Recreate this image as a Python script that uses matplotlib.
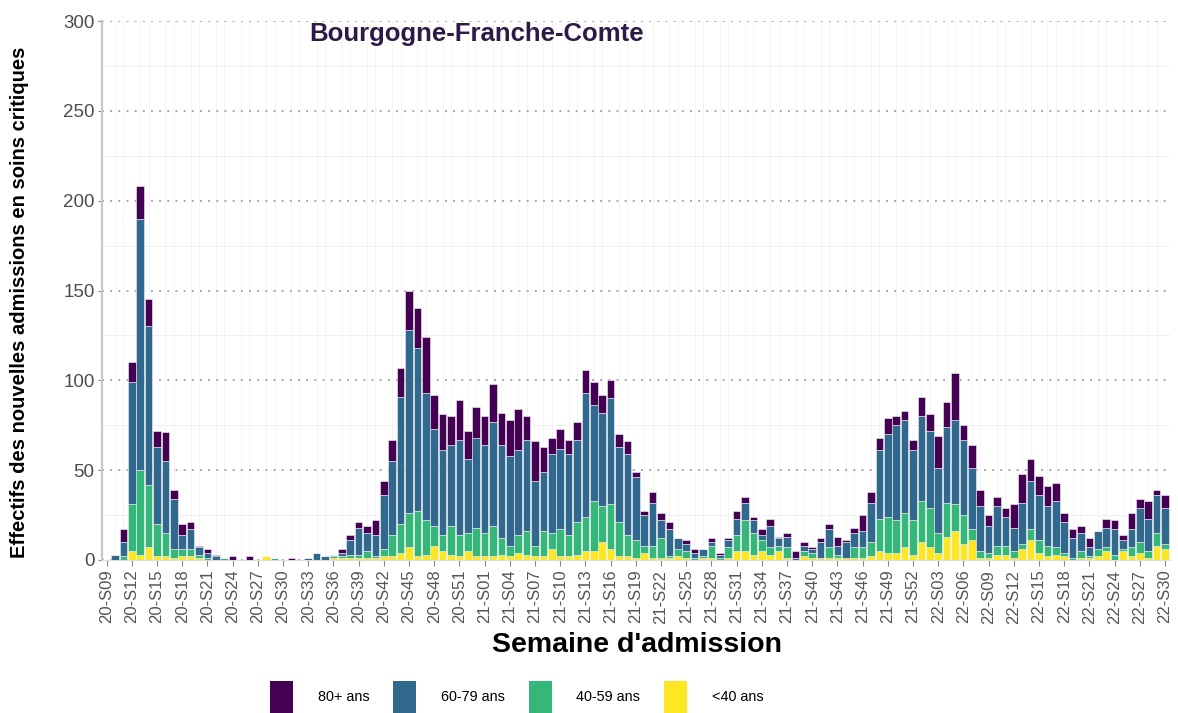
import numpy as np
import matplotlib
matplotlib.use("Agg")
import matplotlib.pyplot as plt

plt.rcParams['font.family'] = ['Liberation Sans', 'DejaVu Sans']

# week labels: 2020 S09-S53, 2021 S01-S52, 2022 S01-S30
weeks = ([f"20-S{w:02d}" for w in range(9, 54)]
         + [f"21-S{w:02d}" for w in range(1, 53)]
         + [f"22-S{w:02d}" for w in range(1, 31)])

age_groups = ['80+ ans', '60-79 ans', '40-59 ans', '<40 ans']
colors = ['#440154', '#31688E', '#35B779', '#FDE725']

# admissions per week, by age group
ans_80plus = [
    0, 0, 7, 11, 18, 15, 9, 16, 5, 6, 4, 1, 2, 1, 0, 2, 0, 2, 0, 0,
    0, 0, 1, 0, 0, 0, 0, 0, 2, 3, 3, 4, 8, 8, 12, 16, 22, 22, 31, 19,
    20, 16, 22, 16, 17, 16, 21, 18, 20, 23, 13, 22, 14, 9, 11, 8, 10, 13, 13, 10,
    10, 7, 7, 3, 2, 6, 4, 4, 0, 2, 2, 0, 2, 1, 1, 4, 3, 2, 3, 4,
    1, 2, 4, 2, 1, 2, 3, 5, 1, 3, 9, 6, 7, 9, 5, 5, 6, 11, 9, 18,
    14, 26, 8, 13, 9, 6, 5, 5, 13, 16, 12, 11, 11, 10, 5, 5, 4, 5, 0, 5,
    5, 3, 9, 5, 10, 3, 7]
ans_60_79 = [
    0, 3, 8, 68, 140, 88, 43, 40, 28, 8, 11, 4, 3, 2, 0, 0, 0, 0, 0, 0,
    0, 0, 0, 0, 1, 4, 2, 1, 2, 8, 15, 10, 12, 30, 41, 71, 102, 91, 71, 54,
    47, 45, 53, 41, 50, 49, 58, 52, 50, 47, 51, 36, 33, 44, 45, 45, 46, 69, 53, 52,
    59, 42, 45, 35, 17, 24, 10, 15, 6, 4, 3, 4, 2, 2, 4, 9, 10, 7, 3, 12,
    4, 6, 1, 3, 2, 9, 10, 5, 9, 8, 9, 22, 38, 46, 53, 52, 39, 47, 43, 36,
    42, 47, 42, 34, 25, 15, 22, 16, 13, 23, 27, 25, 22, 26, 17, 11, 10, 5, 10, 11,
    14, 5, 10, 19, 18, 21, 20]
ans_40_59 = [
    0, 0, 2, 26, 47, 35, 18, 13, 5, 4, 4, 2, 1, 0, 1, 0, 0, 0, 0, 0,
    1, 0, 0, 0, 0, 0, 0, 1, 1, 2, 2, 4, 1, 4, 12, 16, 19, 25, 19, 11,
    9, 16, 12, 10, 16, 13, 17, 9, 6, 10, 13, 6, 14, 9, 15, 12, 18, 19, 28, 20,
    25, 19, 12, 10, 4, 7, 11, 1, 4, 4, 1, 1, 7, 1, 6, 9, 17, 12, 6, 4,
    3, 6, 0, 3, 3, 0, 6, 2, 0, 6, 6, 8, 18, 20, 18, 19, 19, 23, 22, 11,
    19, 15, 16, 6, 4, 3, 5, 5, 4, 3, 6, 7, 6, 4, 2, 1, 4, 1, 4, 2,
    3, 1, 5, 6, 4, 7, 3]
ans_moins40 = [
    0, 0, 0, 5, 3, 7, 2, 2, 1, 2, 2, 1, 0, 0, 0, 0, 0, 0, 0, 2,
    0, 0, 0, 0, 0, 0, 0, 1, 1, 1, 1, 1, 1, 2, 2, 4, 7, 2, 3, 8,
    5, 3, 2, 5, 2, 2, 2, 3, 2, 4, 3, 2, 2, 6, 2, 2, 3, 5, 5, 10,
    6, 2, 2, 1, 4, 1, 1, 1, 2, 1, 0, 1, 1, 0, 1, 5, 5, 3, 5, 3,
    5, 1, 0, 2, 1, 1, 1, 1, 1, 1, 1, 2, 5, 4, 4, 7, 3, 10, 7, 4,
    13, 16, 9, 11, 1, 1, 3, 3, 1, 6, 11, 4, 2, 3, 2, 0, 1, 1, 2, 5,
    0, 5, 2, 4, 1, 8, 6]

series = [ans_80plus, ans_60_79, ans_40_59, ans_moins40]

W, H = 1178, 713
fig = plt.figure(figsize=(W / 100, H / 100), dpi=100)
ax = fig.add_axes([101.5 / W, 1 - 560 / H, (1170 - 101.5) / W, (560 - 21) / H])

x = np.arange(len(weeks))
bottom = np.zeros(len(weeks))
handles = {}
# stack from youngest (bottom) to oldest (top)
for name, vals, col in reversed(list(zip(age_groups, series, colors))):
    vals = np.array(vals, dtype=float)
    b = ax.bar(x, vals, bottom=bottom, width=0.9, color=col,
               edgecolor='#F4F4F4', linewidth=0.4, zorder=3)
    handles[name] = b
    bottom += vals

ax.set_xlim(-0.6, len(weeks) - 0.4)
ax.set_ylim(0, 300)

# grid
ax.set_yticks(range(0, 301, 50))
ax.set_yticks(range(25, 300, 50), minor=True)
ax.yaxis.grid(True, which='major', color='#A8A8A8', linestyle=(0, (1, 3.2)), linewidth=1.4, zorder=0)
ax.yaxis.grid(True, which='minor', color='#EEEEEE', linewidth=0.6, zorder=0)
ax.set_xticks(x, minor=True)
ax.xaxis.grid(True, which='minor', color='#F2F2F2', linewidth=0.6, zorder=0)

ax.set_xticks(x[::3])
ax.set_xticklabels(weeks[::3], rotation=90, fontsize=12, color='#555555')
ax.tick_params(axis='y', which='major', labelsize=13.5, labelcolor='#4D4D4D', color='#888888', length=3, pad=2)
ax.tick_params(axis='y', which='minor', length=0)
ax.tick_params(axis='x', which='major', color='#888888', length=4, pad=3)
ax.tick_params(axis='x', which='minor', length=0)

for s in ['top', 'right']:
    ax.spines[s].set_visible(False)
ax.spines['left'].set_color('#C8C8C8')
ax.spines['left'].set_linewidth(1.6)
ax.spines['bottom'].set_color('#DDDDDD')
ax.spines['bottom'].set_linewidth(0.8)

fig.text(477 / W, 1 - 34 / H, 'Bourgogne-Franche-Comte', ha='center', va='center',
         fontsize=18.5, fontweight='bold', color='#2E1A47')

fig.text(637 / W, 1 - 645 / H, "Semaine d'admission", ha='center', va='center',
         fontsize=20.5, fontweight='bold', color='black')
fig.text(20 / W, 1 - 302 / H, 'Effectifs des nouvelles admissions en soins critiques',
         rotation=90, ha='center', va='center', fontsize=14.5, fontweight='bold', color='black')

leg = fig.legend([handles[n] for n in age_groups], age_groups, loc='upper left',
                 bbox_to_anchor=(270 / W, 1 - 681 / H), ncol=4, frameon=False,
                 fontsize=10.4, handlelength=1.6, handleheight=3.0,
                 handletextpad=1.7, columnspacing=1.65, borderpad=0, borderaxespad=0)
for p in leg.get_patches():
    p.set_edgecolor('none')

fig.savefig('out.png', dpi=100)
